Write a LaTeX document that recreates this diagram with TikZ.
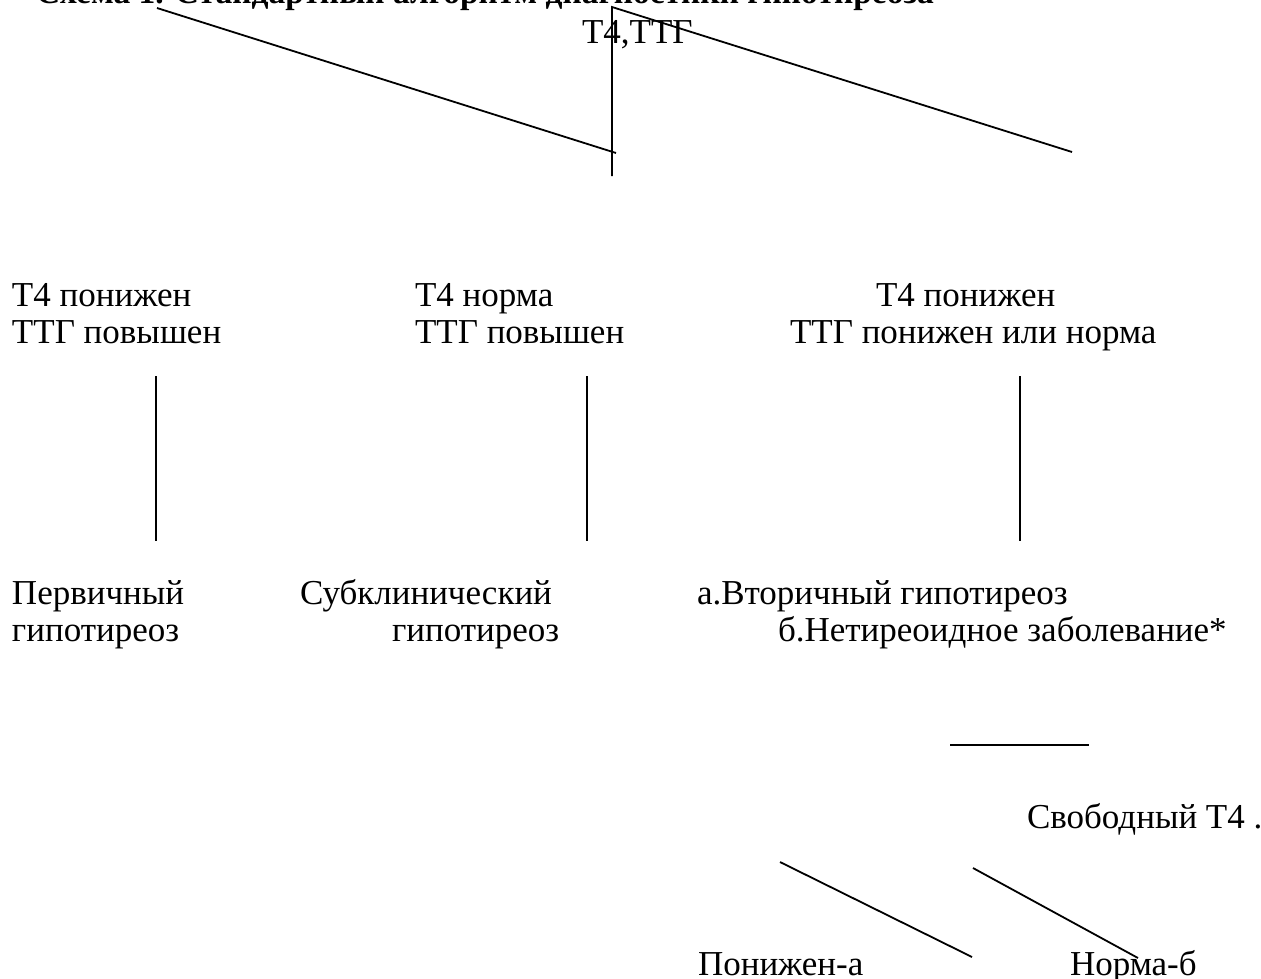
\documentclass[tikz,border=0pt]{standalone}
\usepackage{fontspec}
\setmainfont{Liberation Serif}
\begin{document}
\begin{tikzpicture}[x=1pt,y=-1pt,
  txt/.style={anchor=base west,inner sep=0pt,outer sep=0pt,font=\fontsize{35}{38}\selectfont},
  ttl/.style={txt,font=\fontsize{33.5}{38}\selectfont\bfseries},
  conn/.style={line width=1.8pt,line cap=butt}]
\useasboundingbox (0,0) rectangle (1261,978);
% title (cut by the page edge)
\node[ttl] (title) at (36,3) {Схема 1. Стандартный алгоритм диагностики гипотиреоза};
\node[txt] (root) at (582,43) {Т4,ТТГ};
% level 1
\node[txt] (a1) at (12,306) {Т4 понижен};
\node[txt] (a2) at (12,343) {ТТГ повышен};
\node[txt] (b1) at (415,306) {Т4 норма};
\node[txt] (b2) at (415,343) {ТТГ повышен};
\node[txt] (c1) at (876,306) {Т4 понижен};
\node[txt] (c2) at (790,343) {ТТГ понижен или норма};
% level 2
\node[txt] (d1) at (12,604) {Первичный};
\node[txt] (d2) at (12,641) {гипотиреоз};
\node[txt] (e1) at (300,604) {Субклинический};
\node[txt] (e2) at (392,641) {гипотиреоз};
\node[txt] (f1) at (697,604) {а.Вторичный гипотиреоз};
\node[txt] (f2) at (778,641) {б.Нетиреоидное заболевание*};
% level 3
\node[txt] (g) at (1027,828) {Свободный Т4 .};
\node[txt] (h1) at (698,975) {Понижен-а};
\node[txt] (h2) at (1070,975) {Норма-б};
% connector end points
\coordinate (t0) at (612,7);
\coordinate (tL0) at (157,8);
\coordinate (tL1) at (616,153);
\coordinate (tB) at (612,176);
\coordinate (tR) at (1072,152);
\coordinate (v1a) at (156,376); \coordinate (v1b) at (156,541);
\coordinate (v2a) at (587,376); \coordinate (v2b) at (587,541);
\coordinate (v3a) at (1020,376); \coordinate (v3b) at (1020,541);
\coordinate (hA) at (950,745); \coordinate (hB) at (1089,745);
\coordinate (s1a) at (780,862); \coordinate (s1b) at (972,957);
\coordinate (s2a) at (973,868); \coordinate (s2b) at (1138,958);
\draw[conn] (tL0) -- (tL1);
\draw[conn] (tB) -- (t0) -- (tR);
\draw[conn] (v1a) -- (v1b);
\draw[conn] (v2a) -- (v2b);
\draw[conn] (v3a) -- (v3b);
\draw[conn] (hA) -- (hB);
\draw[conn] (s1a) -- (s1b);
\draw[conn] (s2a) -- (s2b);
\end{tikzpicture}
\end{document}
